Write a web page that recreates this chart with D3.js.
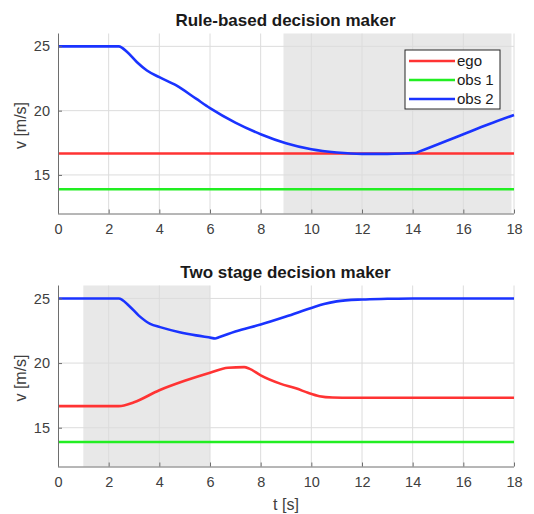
<!DOCTYPE html>
<html>
  <head>
    <meta charset="utf-8" />
    <script src="https://d3js.org/d3.v7.min.js"></script>
    <style>
      body {
        margin: 0;
        background: #fff;
      }
      svg text {
        font-family: "Liberation Sans", Arial, sans-serif;
      }
      .grid line {
        stroke: #dcdcdc;
        stroke-width: 1;
      }
      .axis path,
      .axis line {
        stroke: #6e6e6e;
      }
      .axis text {
        fill: #404040;
        font-size: 14.5px;
      }
    </style>
  </head>
  <body>
    <svg id="chart" width="534" height="514"></svg>

    <script>
      // Data (t in s, v in m/s)
      const xTicks = [0, 2, 4, 6, 8, 10, 12, 14, 16, 18];
      const yTicks = [15, 20, 25];

      // Rule-based decision maker
      const ruleEgo = [[0, 16.67], [18, 16.67]];
      const ruleObs1 = [[0, 13.89], [18, 13.89]];
      const ruleObs2 = [
        [0, 25], [2.4, 25], [2.74, 24.54], [3.12, 23.76], [3.51, 23.12],
        [4, 22.6], [4.67, 21.96], [5.45, 20.93], [6, 20.2], [7, 19.07],
        [8, 18.17], [9, 17.47], [10, 17.0], [11, 16.75], [12, 16.64],
        [13, 16.64], [14.1, 16.7], [14.3, 16.85], [16, 18.17], [17, 18.94],
        [18, 19.66]
      ];
      const ruleShade = [8.9, 17.9];

      // Two stage decision maker
      const twoEgo = [
        [0, 16.67], [2.4, 16.67], [3, 16.97], [4, 17.9], [5, 18.63],
        [6, 19.26], [6.71, 19.64], [7.35, 19.69], [7.55, 19.57], [8, 19.05],
        [8.77, 18.41], [9.42, 18.03], [9.87, 17.7], [10.32, 17.44],
        [10.84, 17.34], [11.6, 17.32], [18, 17.32]
      ];
      const twoObs1 = [[0, 13.89], [18, 13.89]];
      const twoObs2 = [
        [0, 25], [2.4, 25], [2.8, 24.44], [3.19, 23.67], [3.64, 23.03],
        [4.03, 22.78], [4.8, 22.39], [5.45, 22.14], [6.05, 21.95], [6.2, 21.9],
        [6.35, 21.99], [7, 22.44], [8, 22.98], [9, 23.6], [10, 24.26],
        [10.5, 24.57], [11, 24.77], [12, 24.92], [13, 24.97], [14, 25], [18, 25]
      ];
      const twoShade = [1.0, 6.0];

      const seriesNames = ["ego", "obs 1", "obs 2"];
      const seriesColors = ["#ff3333", "#22ee22", "#1a33ff"];

      const svg = d3.select("#chart");
      const left = 58;
      const right = 514;

      const x = d3.scaleLinear().domain([0, 18]).range([left, right]);

      function drawPanel(top, bottom, title, shade, lines, legend, xLabel) {
        const y = d3.scaleLinear().domain([12, 26]).range([bottom, top]);
        const g = svg.append("g");

        // shaded interval
        g.append("rect")
          .attr("x", x(shade[0]))
          .attr("y", top)
          .attr("width", x(shade[1]) - x(shade[0]))
          .attr("height", bottom - top)
          .attr("fill", "#e8e8e8");

        // grid
        const grid = g.append("g").attr("class", "grid");
        grid.selectAll("line.gx")
          .data(xTicks.slice(1))
          .join("line")
          .attr("x1", (d) => x(d))
          .attr("x2", (d) => x(d))
          .attr("y1", top)
          .attr("y2", bottom);
        grid.selectAll("line.gy")
          .data(yTicks)
          .join("line")
          .attr("class", "gy")
          .attr("x1", left)
          .attr("x2", right)
          .attr("y1", (d) => y(d))
          .attr("y2", (d) => y(d));

        // lines
        const lineGen = d3.line()
          .x((d) => x(d[0]))
          .y((d) => y(d[1]))
          .curve(d3.curveMonotoneX);
        lines.forEach((data, i) => {
          g.append("path")
            .datum(data)
            .attr("fill", "none")
            .attr("stroke", seriesColors[i])
            .attr("stroke-width", 2.6)
            .attr("stroke-linejoin", "round")
            .attr("d", lineGen);
        });

        // axes
        g.append("g")
          .attr("class", "axis")
          .attr("transform", `translate(0,${bottom})`)
          .call(d3.axisBottom(x).tickValues(xTicks).tickSize(-4).tickPadding(10).tickSizeOuter(0))
          .call((a) => a.select(".domain").attr("d", `M${left},0.5H${right}`));
        g.append("g")
          .attr("class", "axis")
          .attr("transform", `translate(${left},0)`)
          .call(d3.axisLeft(y).tickValues(yTicks).tickSize(-4).tickPadding(8).tickSizeOuter(0))
          .call((a) => a.select(".domain").attr("d", `M0.5,${top}V${bottom}`));

        // title and labels
        svg.append("text")
          .attr("x", (left + right) / 2 - 0.5)
          .attr("y", top - 8)
          .attr("text-anchor", "middle")
          .attr("font-weight", "bold")
          .attr("font-size", 17)
          .attr("fill", "#1a1a1a")
          .text(title);
        svg.append("text")
          .attr("transform", `translate(26,${(top + bottom) / 2 + 2}) rotate(-90)`)
          .attr("text-anchor", "middle")
          .attr("font-size", 16)
          .attr("fill", "#404040")
          .text("v [m/s]");
        if (xLabel) {
          svg.append("text")
            .attr("x", (left + right) / 2)
            .attr("y", bottom + 43)
            .attr("text-anchor", "middle")
            .attr("font-size", 16)
            .attr("fill", "#404040")
            .text(xLabel);
        }

        if (legend) {
          const lg = svg.append("g").attr("transform", "translate(405,50)");
          lg.append("rect")
            .attr("width", 95)
            .attr("height", 59)
            .attr("fill", "#fff")
            .attr("stroke", "#262626")
            .attr("stroke-width", 1);
          const items = lg.selectAll("g.item")
            .data(seriesNames)
            .join("g")
            .attr("transform", (d, i) => `translate(0,${11 + i * 19})`);
          items.append("line")
            .attr("x1", 4)
            .attr("x2", 50)
            .attr("stroke", (d, i) => seriesColors[i])
            .attr("stroke-width", 2.6);
          items.append("text")
            .attr("x", 52)
            .attr("dy", "0.35em")
            .attr("font-size", 15)
            .attr("fill", "#1a1a1a")
            .text((d) => d);
        }
      }

      drawPanel(33.5, 213.5, "Rule-based decision maker", ruleShade,
        [ruleEgo, ruleObs1, ruleObs2], true, null);
      drawPanel(285.5, 466.5, "Two stage decision maker", twoShade,
        [twoEgo, twoObs1, twoObs2], false, "t [s]");
    </script>
  </body>
</html>
